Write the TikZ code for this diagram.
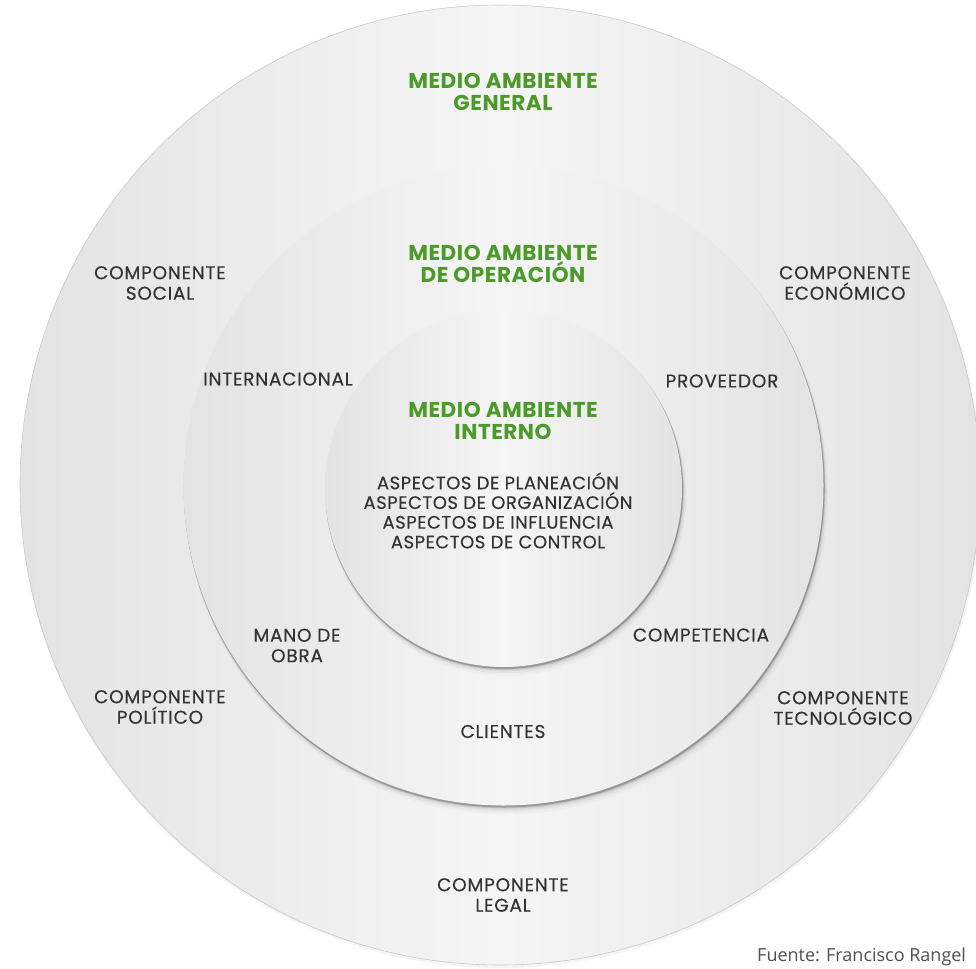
\documentclass[tikz,border=0pt]{standalone}
\usepackage{fontspec}
\setmainfont{Poppins}
\newfontfamily\fuentefont{Open Sans}
\newfontfamily\lblfont[LetterSpace=4,FakeBold=0.35]{Poppins}
\newfontfamily\aspfont[LetterSpace=3,FakeBold=0.35]{Poppins}
\newfontfamily\ttlfont[LetterSpace=2.5]{Poppins}
\definecolor{grn}{HTML}{4C9A2A}
\definecolor{txt}{HTML}{333333}
\definecolor{srcgray}{HTML}{505050}
\definecolor{ringside}{HTML}{E3E3E3}
\definecolor{ringmid}{HTML}{F5F5F5}
\definecolor{rimgray}{HTML}{C8C8C8}
\newcommand\softshadow[3]{%
  \foreach \d/\o in {7/0.025,5/0.035,3.5/0.05,2.4/0.09,1.6/0.22}{%
    \fill[black,opacity=\o] (#1+0.4*\d,#2+\d) circle[radius={(#3+0.25*\d)*1pt}];}%
}
\begin{document}
\begin{tikzpicture}[x=1pt,y=-1pt,
  lbl/.style={text=txt,font=\lblfont\fontsize{18.5}{20.5}\selectfont,align=center,inner sep=0pt},
  aspect/.style={text=txt,font=\aspfont\fontsize{18}{19.7}\selectfont,align=center,inner sep=0pt},
  ttl/.style={text=grn,font=\ttlfont\bfseries\fontsize{21.5}{22.8}\selectfont,align=center,inner sep=0pt},
  disc/.style={circle,inner sep=0pt,minimum size=#1,left color=ringside,right color=ringside,middle color=ringmid},
  srcnote/.style={text=srcgray,font=\fuentefont\fontsize{18}{20}\selectfont,anchor=west,inner sep=0pt}]
\useasboundingbox (0,0) rectangle (976,968);
\fill[white] (0,0) rectangle (976,968);
% outer disc
\fill[black,opacity=0.04] (501,487) circle[radius=481pt];
\node[disc=960pt,draw=rimgray,line width=0.6pt] (outer) at (500,485) {};
% middle disc
\softshadow{503.5}{485.5}{320}
\node[disc=640pt] (middle) at (503.5,485.5) {};
% inner disc
\softshadow{503.5}{488.5}{178.5}
\node[disc=357pt] (inner) at (503.5,488.5) {};
% titles
\node[ttl] (tgen) at (503,92) {MEDIO AMBIENTE\\GENERAL};
\node[ttl] (toper) at (503,264) {MEDIO AMBIENTE\\DE OPERACIÓN};
\node[ttl] (tint) at (503,421) {MEDIO AMBIENTE\\INTERNO};
% internal aspects
\node[aspect] (asp) at (498,510.5) {ASPECTOS DE PLANEACIÓN\\ASPECTOS DE ORGANIZACIÓN\\ASPECTOS DE INFLUENCIA\\ASPECTOS DE CONTROL};
% operation environment
\node[lbl] (intl) at (278,379) {INTERNACIONAL};
\node[lbl] (prov) at (722,381) {PROVEEDOR};
\node[lbl] (mano) at (297,645.5) {MANO DE\\OBRA};
\node[lbl] (comp) at (701,635) {COMPETENCIA};
\node[lbl] (cli) at (503,731.5) {CLIENTES};
% general environment
\node[lbl] (social) at (160,283) {COMPONENTE\\SOCIAL};
\node[lbl] (econ) at (845,283) {COMPONENTE\\ECONÓMICO};
\node[lbl] (pol) at (160,707) {COMPONENTE\\POLÍTICO};
\node[lbl] (tec) at (843,708) {COMPONENTE\\TECNOLÓGICO};
\node[lbl] (legal) at (503,895) {COMPONENTE\\LEGAL};
% source
\node[srcnote] (src) at (757,957) {Fuente: Francisco Rangel};
\end{tikzpicture}
\end{document}
